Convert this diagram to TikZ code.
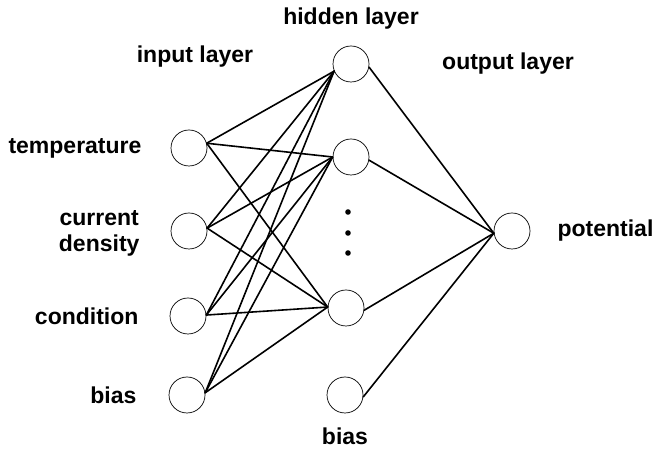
\documentclass[tikz,border=0pt]{standalone}
\usepackage{fontspec}
\setmainfont{Liberation Sans}
\usetikzlibrary{positioning}
\tikzset{
    neuron/.style={circle, draw=black, line width=0.7pt, minimum size=36pt, inner sep=0pt},
    layerlabel/.style={inner sep=0pt, align=center, font=\fontsize{23}{26}\selectfont\bfseries},
    link/.style={line width=1.6pt, line cap=round}
}
\begin{document}
\begin{tikzpicture}[x=1pt, y=1pt]
    \useasboundingbox (0,0) rectangle (655,454);
    % input layer
    \node (in1) [neuron] at (189,306) {};
    \node (in2) [neuron] at (189,223) {};
    \node (in3) [neuron] at (188,138) {};
    \node (in4) [neuron] at (187,59) {};
    % hidden layer
    \node (h1) [neuron] at (351,390) {};
    \node (h2) [neuron] at (351,297) {};
    \node (h3) [neuron] at (346,146) {};
    \node (hb) [neuron] at (345,59) {};
    % output layer
    \node (out) [neuron] at (512,223) {};

    \node (templabel) [layerlabel, left=29pt of in1] {temperature};
    \node (curlabel) [layerlabel, left=31pt of in2, yshift=-2pt] {current\\density};
    \node (condlabel) [layerlabel, left=31pt of in3] {condition};
    \node (biaslabel) [layerlabel, left=32pt of in4] {bias};
    \node (hbiaslabel) [layerlabel, below=14pt of hb] {bias};
    \node (potlabel) [layerlabel, right=27pt of out] {potential};
    \node (inlayer) [layerlabel] at (195,397) {input layer};
    \node (hidlayer) [layerlabel, above=16pt of h1] {hidden layer};
    \node (outlayer) [layerlabel] at (508,390) {output layer};

    % dots between hidden neurons
    \foreach \y in {242,221,201}
        \fill (348,\y) circle (2.8pt);

    \foreach \i/\a in {1/15,2/9,3/3,4/7}
        \foreach \h/\b in {1/203,2/180,3/177}
            \draw [link] (in\i.\a) -- (h\h.\b);
    \foreach \h/\b in {1/350,2/350,3/353,b/354}
        \draw [link] (h\h.\b) -- (out.187);
\end{tikzpicture}
\end{document}
